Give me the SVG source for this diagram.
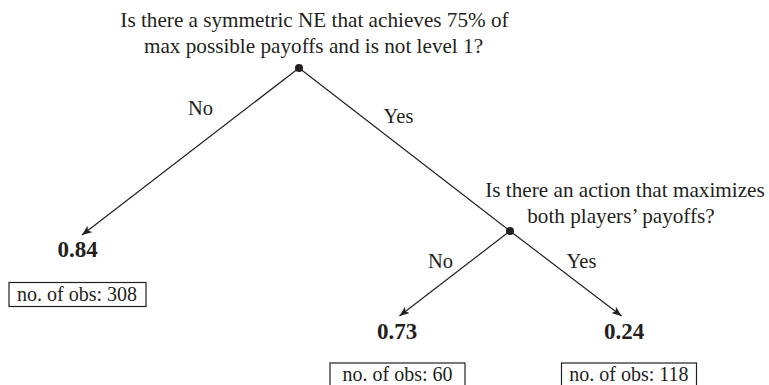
<svg xmlns="http://www.w3.org/2000/svg" width="769" height="385" viewBox="0 0 769 385">
<defs>
<marker id="arr" viewBox="0 0 10 8" refX="10" refY="4" markerWidth="10" markerHeight="8" markerUnits="userSpaceOnUse" orient="auto">
<path d="M0,0 L10,4 L0,8 L2.5,4 Z" fill="#231f20"/>
</marker>
<style>
text{font-family:"Liberation Serif","Times New Roman",serif;fill:#231f20}
.q{font-size:21.2px;text-anchor:middle}
.lbl{font-size:20.5px;text-anchor:middle}
.val{font-size:23px;font-weight:bold;text-anchor:middle}
.obs{font-size:20px;text-anchor:middle}
.box{fill:#fff;stroke:#231f20;stroke-width:1.2}
.edge{stroke:#231f20;stroke-width:1.2;fill:none}
.dot{fill:#231f20}
</style>
</defs>
<rect width="769" height="385" fill="#fff"/>
<g id="connectors">
<line class="edge" x1="299" y1="68" x2="82" y2="235" marker-end="url(#arr)"/>
<line class="edge" x1="299" y1="68" x2="510" y2="231"/>
<line class="edge" x1="510" y1="231" x2="399.5" y2="316" marker-end="url(#arr)"/>
<line class="edge" x1="510" y1="231" x2="621.5" y2="316" marker-end="url(#arr)"/>
<text class="lbl" x="200.5" y="115">No</text>
<text class="lbl" x="398.5" y="123">Yes</text>
<text class="lbl" x="440.5" y="268">No</text>
<text class="lbl" x="581.5" y="268">Yes</text>
</g>
<g id="root">
<circle class="dot" cx="299" cy="68" r="4"/>
<text class="q" x="314.5" y="26.5">Is there a symmetric NE that achieves 75% of</text>
<text class="q" x="313.5" y="53">max possible payoffs and is not level 1?</text>
</g>
<g id="split2">
<circle class="dot" cx="510" cy="231" r="4"/>
<text class="q" x="625" y="197">Is there an action that maximizes</text>
<text class="q" x="621" y="223">both players’ payoffs?</text>
</g>
<g id="leaf1">
<text class="val" x="77.5" y="257">0.84</text>
<rect class="box" x="9" y="282.5" width="137" height="24"/>
<text class="obs" x="77" y="301">no. of obs: 308</text>
</g>
<g id="leaf2">
<text class="val" x="397" y="339">0.73</text>
<rect class="box" x="330" y="363" width="135" height="26"/>
<text class="obs" x="397.5" y="381">no. of obs: 60</text>
</g>
<g id="leaf3">
<text class="val" x="624" y="339">0.24</text>
<rect class="box" x="561.5" y="363" width="135" height="26"/>
<text class="obs" x="629" y="381">no. of obs: 118</text>
</g>
</svg>
